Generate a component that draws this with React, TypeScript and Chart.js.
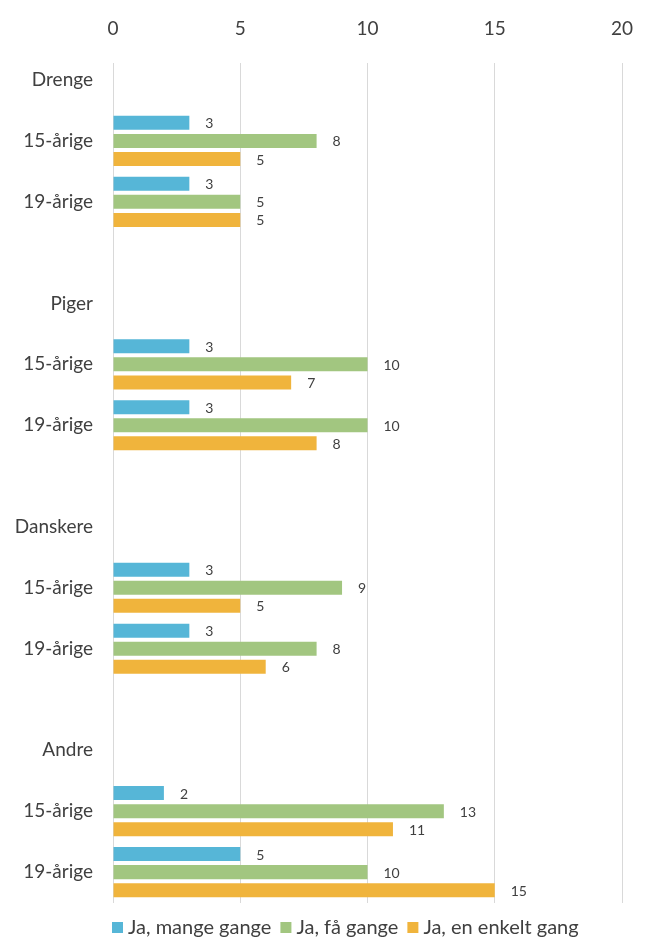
import { useEffect, useRef } from "react";
import { Chart, registerables } from "chart.js";

Chart.register(...registerables);

const groups = ["Drenge", "Piger", "Danskere", "Andre"];
const ages = ["15-årige", "19-årige"];
const seriesNames = ["Ja, mange gange", "Ja, få gange", "Ja, en enkelt gang"];
// values per row: Drenge 15, Drenge 19, Piger 15, Piger 19, Danskere 15, Danskere 19, Andre 15, Andre 19
const mangeGange = [3, 3, 3, 3, 3, 3, 2, 5];
const faaGange = [8, 5, 10, 10, 9, 8, 13, 10];
const enkeltGang = [5, 5, 7, 8, 5, 6, 11, 15];
const xTicks = [0, 5, 10, 15, 20];
const colors = ["#56B6D7", "#A2C680", "#F0B43C"];

const FONT = "Lato";
const TEXT = "#404040";

// layout helpers (row positions on the vertical axis)
const headingPos = (g: number) => g * 11;
const agePos = (g: number, a: number) => g * 11 + (a + 1) * 3;

const rowLabels = new Map<number, string>();
groups.forEach((g, gi) => {
  rowLabels.set(headingPos(gi), g);
  ages.forEach((a, ai) => rowLabels.set(agePos(gi, ai), a));
});
const rowPositions = Array.from(rowLabels.keys()).sort((a, b) => a - b);

const toPoints = (vals: number[]) =>
  vals.map((v, i) => ({ x: v, y: agePos(Math.floor(i / 2), i % 2) }));

const valueLabels = {
  id: "valueLabels",
  afterDraw(chart: any) {
    const ctx = chart.ctx;
    ctx.save();
    ctx.font = `14px ${FONT}`;
    ctx.fillStyle = TEXT;
    ctx.textAlign = "left";
    ctx.textBaseline = "middle";
    chart.data.datasets.forEach((ds: any, di: number) => {
      const meta = chart.getDatasetMeta(di);
      meta.data.forEach((el: any, i: number) => {
        ctx.fillText(String(ds.data[i].x), el.x + 16, el.y + 1);
      });
    });
    ctx.restore();
  },
};

const customLegend = {
  id: "customLegend",
  afterDraw(chart: any) {
    const ctx = chart.ctx;
    ctx.save();
    ctx.font = `20px ${FONT}`;
    ctx.textBaseline = "alphabetic";
    ctx.textAlign = "left";
    let x = 112;
    const baseY = 934;
    chart.data.datasets.forEach((ds: any) => {
      ctx.fillStyle = ds.backgroundColor;
      ctx.fillRect(x, 922, 11, 11);
      ctx.fillStyle = TEXT;
      ctx.fillText(ds.label, x + 16, baseY);
      x += 16 + ctx.measureText(ds.label).width + 9;
    });
    ctx.restore();
  },
};

export default function App() {
  const ref = useRef<HTMLCanvasElement | null>(null);
  useEffect(() => {
    if (!ref.current) return;
    const chart = new Chart(ref.current, {
      type: "bar",
      data: {
        datasets: [mangeGange, faaGange, enkeltGang].map((vals, i) => ({
          label: seriesNames[i],
          data: toPoints(vals),
          backgroundColor: colors[i],
          borderWidth: 0,
          categoryPercentage: 0.89,
          barPercentage: 0.775,
        })),
      },
      options: {
        indexAxis: "y",
        responsive: false,
        animation: false,
        layout: { padding: { top: 0, right: 35, bottom: 34, left: 0 } },
        plugins: {
          legend: { display: false },
          tooltip: { enabled: false },
        },
        scales: {
          x: {
            type: "linear",
            position: "top",
            min: xTicks[0],
            max: xTicks[xTicks.length - 1],
            afterBuildTicks: (s: any) => {
              s.ticks = xTicks.map((v) => ({ value: v }));
            },
            afterFit: (s: any) => {
              s.height = 63;
            },
            z: 1,
            grid: { color: "rgba(0,0,0,0.15)", drawTicks: false, lineWidth: 1 },
            border: { display: false },
            ticks: {
              padding: 23,
              color: TEXT,
              font: { family: FONT, size: 19 },
            },
          },
          y: {
            type: "linear",
            reverse: true,
            offset: false,
            min: -0.837,
            max: 40.52,
            afterBuildTicks: (s: any) => {
              s.ticks = rowPositions.map((v) => ({ value: v }));
            },
            afterFit: (s: any) => {
              s.width = 113;
            },
            grid: { display: false, drawTicks: false },
            border: { display: false },
            ticks: {
              autoSkip: false,
              padding: 20,
              color: TEXT,
              font: { family: FONT, size: 19 },
              callback: (v: any) => rowLabels.get(Number(v)) ?? "",
            },
          },
        },
      } as any,
      plugins: [valueLabels, customLegend],
    });
    return () => chart.destroy();
  }, []);
  return (
    <div style={{ position: "absolute", left: 0, top: 0, width: 657, height: 937 }}>
      <canvas ref={ref} width={657} height={937} />
    </div>
  );
}
